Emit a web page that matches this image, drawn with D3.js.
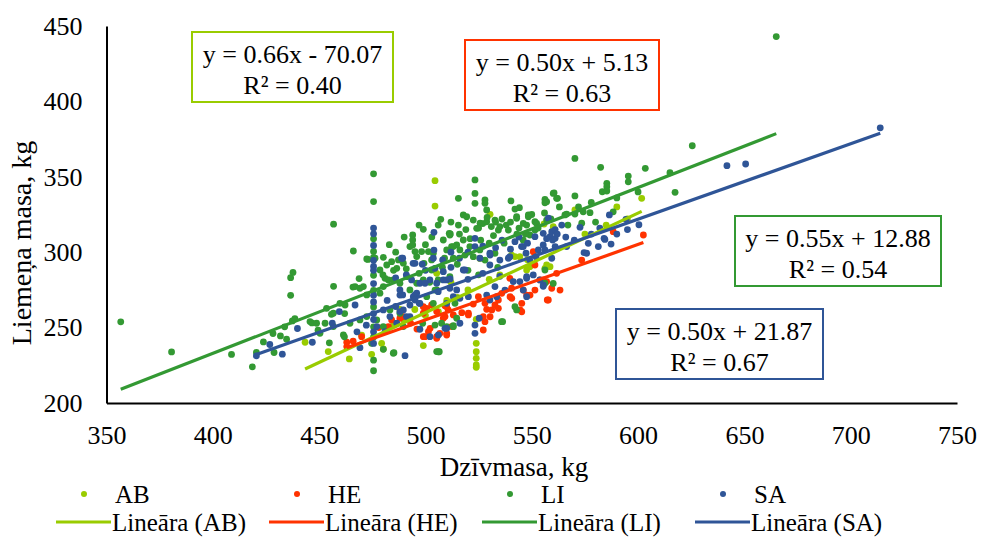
<!DOCTYPE html>
<html>
<head>
<meta charset="utf-8">
<script src="https://cdn.jsdelivr.net/npm/d3@7"></script>
<style>
    body { margin: 0; background: #fff; }
    svg text { font-family: 'Liberation Serif', 'Times New Roman', serif; fill: #000; }
</style>
</head>
<body>
<div id="chart"></div>
<script>
'use strict';

// series names, in drawing order
let seriesNames = ['AB', 'HE', 'LI', 'SA'];
let seriesColors = ['#99cc00', '#ff3300', '#339933', '#2f5597'];

// [live weight, carcass weight] in kg
let abPoints = [
    [443.4, 240.3], [454.3, 234.1], [464.2, 229.2], [474.7, 232.3], [479.4, 239.6], [480.2, 235.8],
    [499.0, 238.1], [506.1, 260.6], [505.3, 286.0], [504.5, 347.4], [504.5, 330.6], [530.4, 325.1],
    [570.3, 328.0], [558.6, 290.4], [601.7, 335.7], [560.1, 316.9], [555.8, 318.7], [523.9, 255.5],
    [523.9, 239.6], [523.9, 234.0], [523.9, 229.6], [523.9, 225.2], [523.9, 223.7], [547.6, 288.2],
    [549.1, 290.4], [556.2, 289.3], [557.0, 291.5], [540.5, 298.1], [544.4, 297.0], [542.1, 297.1],
    [525.6, 295.9], [470.0, 245.0], [485.0, 252.0], [490.0, 255.0], [495.0, 262.0], [500.0, 258.0],
    [510.0, 268.0], [515.0, 270.0], [520.0, 275.0], [530.0, 282.0], [535.0, 285.0], [548.0, 295.0],
    [575.0, 312.0], [585.0, 318.0], [595.0, 322.0], [590.0, 330.0], [512.0, 280.0], [488.0, 262.0]
];
let hePoints = [
    [463.0, 240.3], [463.0, 237.4], [466.0, 241.0], [470.0, 244.0], [482.6, 250.7], [484.1, 255.1],
    [488.0, 256.2], [489.6, 257.3], [499.0, 244.0], [501.4, 247.3], [505.3, 244.0], [499.8, 244.0],
    [502.2, 249.5], [505.3, 242.9], [506.8, 246.2], [510.0, 246.2], [510.0, 245.1], [512.3, 250.7],
    [513.1, 258.4], [509.2, 257.3], [508.4, 256.2], [500.6, 262.8], [499.0, 259.5], [502.9, 265.0],
    [505.3, 260.6], [510.0, 263.9], [509.2, 264.5], [510.7, 261.7], [499.0, 263.9], [517.1, 259.9],
    [520.2, 259.5], [520.2, 258.4], [522.5, 265.6], [524.9, 270.5], [528.0, 266.1], [528.8, 262.1],
    [531.2, 261.7], [530.4, 257.2], [532.7, 265.0], [534.3, 268.3], [534.3, 262.8], [535.9, 272.7],
    [527.2, 257.2], [528.0, 253.9], [527.2, 248.4], [539.8, 270.5], [540.6, 269.4], [544.5, 261.7],
    [545.3, 266.1], [545.3, 260.5], [549.2, 271.6], [551.5, 274.9], [555.4, 281.6], [559.4, 276.1],
    [563.3, 274.9], [557.8, 268.3], [551.5, 291.5], [550.7, 300.3], [539.7, 282.7], [540.5, 276.1],
    [546.0, 274.9], [557.0, 280.5], [561.7, 286.0], [547.6, 271.6], [553.9, 281.6], [573.5, 294.8],
    [588.3, 313.6], [602.5, 311.4], [557.3, 268.3], [478.0, 250.0], [493.0, 253.0], [496.0, 249.0]
];
let liPoints = [
    [356.7, 253.8], [380.6, 233.9], [408.8, 232.2], [418.6, 224.0], [420.5, 233.5], [423.8, 240.5],
    [428.3, 246.1], [431.8, 244.5], [428.8, 233.5], [434.7, 242.3], [433.8, 250.5], [437.4, 254.4],
    [438.6, 256.0], [436.6, 271.4], [436.6, 283.1], [437.7, 286.6], [445.7, 254.0], [446.6, 253.1],
    [448.8, 252.9], [449.5, 248.3], [450.4, 246.2], [452.8, 252.9], [453.5, 262.8], [454.8, 239.9],
    [455.8, 258.8], [456.7, 259.5], [456.7, 250.7], [456.8, 318.6], [456.8, 277.4], [459.8, 266.1],
    [461.4, 245.1], [461.9, 243.9], [462.0, 259.3], [462.2, 265.0], [464.5, 252.9], [465.9, 276.9],
    [466.1, 300.8], [466.9, 277.2], [468.8, 282.5], [469.2, 276.1], [469.2, 255.1], [470.8, 277.2],
    [472.4, 295.5], [472.4, 271.7], [472.4, 257.3], [473.0, 295.2], [474.7, 239.6],
    [475.6, 352.0], [475.6, 333.6], [475.6, 308.9], [475.6, 300.5], [475.6, 284.7], [475.6, 274.7],
    [475.6, 263.7], [475.6, 250.5], [475.6, 243.8], [475.6, 228.4], [475.6, 221.4], [475.6, 296.5],
    [476.3, 296.0], [477.1, 255.1], [478.6, 288.2], [478.6, 272.8], [480.2, 296.6], [480.2, 277.2],
    [480.2, 250.7], [480.2, 235.6], [481.0, 282.7], [481.8, 291.5], [482.6, 281.6], [483.3, 261.7],
    [484.1, 293.7], [484.9, 281.6], [484.9, 233.0], [486.5, 289.3], [487.3, 294.9], [488.0, 279.4],
    [488.0, 259.5], [489.6, 292.7], [489.6, 250.7], [491.2, 283.8], [492.7, 303.7], [492.7, 275.0],
    [494.0, 311.4], [494.0, 308.1], [494.0, 304.8], [495.1, 300.4], [495.9, 297.1], [495.9, 279.4],
    [498.2, 300.4], [499.0, 315.2], [499.0, 281.6], [499.3, 292.6], [500.6, 270.5], [501.4, 300.4],
    [502.9, 294.9], [503.7, 299.3], [503.7, 266.1], [504.5, 274.9], [504.5, 251.7], [505.3, 275.0],
    [505.3, 234.1], [506.0, 281.6], [506.5, 234.0], [507.2, 321.8], [507.6, 252.9], [508.4, 308.1],
    [510.0, 301.5], [510.0, 250.7], [511.2, 312.5], [511.5, 311.4], [511.5, 283.8], [511.7, 312.1],
    [512.3, 303.7], [513.1, 296.0], [513.1, 251.3], [513.1, 303.7], [513.9, 266.1], [514.7, 304.8],
    [514.7, 256.2], [515.5, 335.7], [515.5, 318.0], [516.2, 301.5], [517.8, 308.1], [517.8, 324.7],
    [518.6, 298.1], [519.4, 323.5], [520.9, 303.7], [522.5, 321.3], [522.5, 297.0], [523.3, 347.9],
    [523.3, 339.0], [523.3, 332.4], [524.1, 315.8], [525.6, 301.5], [525.7, 319.2], [525.0, 316.0],
    [527.0, 319.0], [528.0, 334.6], [528.0, 332.4], [528.0, 294.8], [528.8, 320.2], [528.8, 328.0],
    [529.0, 323.0], [531.0, 317.0], [532.7, 321.3], [532.7, 299.3], [533.0, 320.0], [534.3, 314.7],
    [535.0, 317.0], [535.8, 253.9], [536.0, 322.0], [536.3, 253.9], [538.0, 318.0], [539.0, 314.7],
    [540.2, 334.0], [542.1, 328.6], [542.1, 263.9], [542.9, 322.5], [542.9, 323.6], [542.9, 261.7],
    [544.2, 329.5], [546.0, 319.1], [547.6, 318.0], [548.4, 323.5], [548.4, 324.7], [549.1, 311.4],
    [551.5, 320.2], [551.5, 314.7], [552.3, 319.1], [556.2, 332.8], [556.2, 335.0], [556.2, 288.2],
    [556.2, 279.4], [557.0, 321.3], [557.0, 333.5], [560.1, 339.0], [560.1, 279.3], [560.5, 339.4],
    [561.7, 335.7], [562.1, 335.7], [565.6, 324.7], [566.4, 325.3], [570.3, 362.2], [570.3, 337.3],
    [570.3, 325.3], [573.5, 319.2], [574.2, 326.8], [577.4, 326.2], [582.4, 356.3], [583.2, 340.1],
    [585.3, 345.7], [585.3, 343.4], [585.3, 340.6], [588.3, 326.8], [595.4, 350.5], [595.4, 346.7],
    [603.4, 355.6], [615.0, 352.7], [617.4, 339.7], [625.5, 370.6], [665.0, 443.0], [502.9, 288.2],
    [513.1, 250.6], [485.2, 233.4], [498.7, 252.9], [506.0, 234.0], [543.0, 312.0], [546.0, 308.0],
    [483.0, 305.0], [486.0, 300.0], [490.0, 310.0], [497.0, 318.0], [500.0, 305.0], [503.0, 310.0],
    [506.0, 318.0], [509.0, 296.0], [512.0, 320.0], [516.0, 312.0], [519.0, 315.0], [521.0, 309.0],
    [526.0, 308.0], [530.0, 306.0], [532.0, 311.0], [537.0, 306.0], [540.0, 320.0], [544.0, 316.0],
    [547.0, 312.0], [550.0, 325.0], [553.0, 316.0], [556.0, 326.0], [559.0, 322.0], [563.0, 330.0],
    [567.0, 318.0], [572.0, 330.0], [578.0, 333.0], [580.0, 320.0], [590.0, 336.0], [600.0, 340.0],
    [480.0, 285.0], [485.0, 288.0], [491.0, 289.0], [497.0, 286.0], [502.0, 280.0], [508.0, 290.0],
    [515.0, 292.0], [520.0, 288.0], [525.0, 285.0], [534.0, 290.0]
];
let saPoints = [
    [420.5, 231.3], [426.8, 238.8], [432.7, 232.4], [439.8, 249.4], [446.8, 240.3], [456.2, 252.9],
    [459.5, 260.6], [466.9, 265.0], [467.8, 247.2], [469.2, 236.7], [472.2, 251.6], [477.1, 250.7],
    [481.0, 247.3], [483.3, 257.3], [486.5, 252.9], [480.2, 261.7], [489.6, 261.7], [492.7, 257.3],
    [490.4, 231.4], [491.1, 257.3], [488.0, 260.6], [488.0, 271.6], [494.3, 270.5], [497.4, 266.1],
    [497.4, 248.9], [497.4, 279.4], [502.1, 244.0], [506.1, 245.1], [509.2, 249.5], [510.0, 249.5],
    [516.2, 252.9], [523.3, 251.7], [523.3, 246.2], [525.3, 256.2], [506.0, 273.8], [513.1, 270.5],
    [510.0, 266.1], [516.2, 269.4], [520.2, 270.5], [528.8, 271.6], [530.3, 268.3], [532.7, 277.2],
    [533.5, 270.5], [537.4, 274.9], [541.3, 280.5], [547.6, 270.5], [547.6, 283.8], [546.0, 274.9],
    [550.7, 284.9], [555.4, 278.3], [553.8, 281.6], [547.6, 282.7], [544.4, 280.5], [502.1, 281.6],
    [475.6, 316.0], [475.6, 312.2], [475.6, 304.5], [475.6, 294.6], [475.6, 290.6], [475.6, 288.0],
    [475.6, 279.2], [475.6, 271.4], [475.6, 267.0], [475.6, 259.3], [475.6, 255.3], [475.6, 247.2],
    [475.6, 239.5], [489.3, 296.0], [489.3, 271.7], [488.8, 296.0], [488.0, 275.0], [492.7, 265.0],
    [493.5, 281.6], [494.2, 292.6], [495.1, 292.6], [495.1, 271.7], [495.1, 268.3], [495.9, 272.8],
    [497.1, 266.1], [498.5, 292.0], [499.8, 279.4], [503.7, 296.0], [504.0, 301.4], [504.0, 313.2],
    [504.5, 289.3], [505.3, 279.4], [508.1, 294.9], [508.4, 287.1], [508.4, 281.6], [510.0, 281.6],
    [511.5, 276.1], [511.6, 282.3], [514.7, 275.0], [517.8, 288.2], [518.6, 288.2], [523.3, 309.2],
    [523.3, 303.7], [525.6, 296.0], [530.3, 299.3], [530.3, 291.5], [530.4, 298.1], [535.0, 294.8],
    [539.0, 296.0], [539.7, 297.0], [542.1, 307.0], [545.2, 303.7], [546.0, 303.7], [547.3, 299.3],
    [549.1, 294.8], [551.5, 310.3], [553.1, 301.5], [555.4, 312.5], [555.4, 304.8], [556.2, 301.5],
    [557.0, 309.0], [557.8, 322.5], [558.6, 310.3], [559.4, 313.6], [559.4, 296.0], [559.8, 308.1],
    [561.0, 303.7], [561.0, 309.2], [561.0, 315.0], [564.1, 318.0], [566.4, 303.7], [572.7, 316.5],
    [574.6, 299.7], [575.8, 299.3], [576.6, 305.9], [581.3, 303.7], [584.0, 309.2], [584.4, 308.5],
    [586.5, 324.7], [587.3, 305.4], [594.3, 321.8], [600.4, 318.2], [641.8, 357.4], [650.6, 358.5],
    [713.9, 382.5], [555.4, 277.4],
    [512.0, 300.0], [516.0, 296.0], [520.0, 300.0], [527.0, 304.0], [533.0, 303.0], [536.0, 308.0],
    [540.0, 302.0], [544.0, 310.0], [548.0, 306.0], [552.0, 297.0], [562.0, 312.0], [566.0, 310.0],
    [570.0, 308.0], [578.0, 312.0], [582.0, 316.0], [590.0, 312.0], [595.0, 315.0], [486.0, 283.0],
    [491.0, 285.0], [500.0, 288.0], [512.0, 290.0], [520.0, 282.0], [527.0, 286.0], [535.0, 284.0],
    [482.0, 268.0], [486.0, 264.0]
];

// linear trend lines as printed on the chart
let trendSlopes = [0.66, 0.50, 0.55, 0.50];
let trendIntercepts = [-70.07, 5.13, 12.88, 21.87];
let trendR2 = [0.40, 0.63, 0.54, 0.67];

let xTicks = [350, 400, 450, 500, 550, 600, 650, 700, 750];
let yTicks = [200, 250, 300, 350, 400, 450];
let xTitle = 'Dzīvmasa, kg';
let yTitle = 'Liemeņa masa, kg';
let trendPrefix = 'Lineāra';

let allPoints = [abPoints, hePoints, liPoints, saPoints];

let serif = "'Liberation Serif', 'Times New Roman', serif";

// page layout
let width = 981,
    height = 537;
// top-left corner of each equation box (AB, HE, LI, SA)
let boxCorners = [[192, 32], [465, 40], [735, 216], [616, 309]];
let boxSizes = [[201, 70], [194, 70], [206, 70], [207, 70]];

let svg = d3.select('#chart')
    .append('svg')
    .attr('width', width)
    .attr('height', height)
    .attr('font-family', serif);

let x = d3.scaleLinear().domain([350, 750]).range([106.5, 957]);
let y = d3.scaleLinear().domain([200, 450]).range([403, 26]);

// axes (no grid, no tick marks)
let xAxis = svg.append('g')
    .attr('transform', 'translate(0,403)')
    .call(d3.axisBottom(x).tickValues(xTicks).tickSize(0).tickSizeOuter(0).tickPadding(23));
let yAxis = svg.append('g')
    .attr('transform', 'translate(106.5,0)')
    .call(d3.axisLeft(y).tickValues(yTicks).tickSize(0).tickSizeOuter(0).tickPadding(24));

[xAxis, yAxis].forEach(function(a) {
    a.attr('font-family', serif).attr('font-size', 26);
    a.select('.domain').attr('stroke', '#000').attr('stroke-width', 2);
    a.selectAll('text')
        .attr('font-family', serif)
        .attr('fill', '#000');
});

svg.append('text')
    .attr('x', 514)
    .attr('y', 476)
    .attr('text-anchor', 'middle')
    .style('font-size', '27px')
    .text(xTitle);

svg.append('text')
    .attr('transform', 'translate(31,243) rotate(-90)')
    .attr('text-anchor', 'middle')
    .style('font-size', '28px')
    .text(yTitle);

// markers
seriesNames.forEach(function(name, i) {
    svg.append('g')
        .attr('fill', seriesColors[i])
        .selectAll('circle')
        .data(allPoints[i])
        .enter().append('circle')
        .attr('cx', function(d) {
            return x(d[0]);
        })
        .attr('cy', function(d) {
            return y(d[1]);
        })
        .attr('r', 3.4);
});

// trend lines, spanning each series' own range of live weight
seriesNames.forEach(function(name, i) {
    let ext = d3.extent(allPoints[i], function(d) {
        return d[0];
    });
    let ends = ext.map(function(v) {
        return [v, trendSlopes[i] * v + trendIntercepts[i]];
    });
    svg.append('path')
        .attr('d', d3.line()
            .x(function(d) {
                return x(d[0]);
            })
            .y(function(d) {
                return y(d[1]);
            })(ends))
        .attr('fill', 'none')
        .attr('stroke', seriesColors[i])
        .attr('stroke-width', 3.2);
});

// equation boxes
function equationText(i) {
    let b = trendIntercepts[i];
    return 'y = ' + trendSlopes[i].toFixed(2) + 'x ' + (b < 0 ? '- ' : '+ ') + Math.abs(b).toFixed(2);
}

seriesNames.forEach(function(name, i) {
    let c = boxCorners[i],
        s = boxSizes[i];
    let g = svg.append('g').attr('transform', 'translate(' + c[0] + ',' + c[1] + ')');
    g.append('rect')
        .attr('width', s[0])
        .attr('height', s[1])
        .attr('fill', '#fff')
        .attr('stroke', seriesColors[i])
        .attr('stroke-width', 2);
    g.append('text')
        .attr('x', s[0] / 2)
        .attr('y', 31)
        .attr('text-anchor', 'middle')
        .style('font-size', '26px')
        .text(equationText(i));
    g.append('text')
        .attr('x', s[0] / 2)
        .attr('y', 62)
        .attr('text-anchor', 'middle')
        .style('font-size', '26px')
        .text('R² = ' + trendR2[i].toFixed(2));
});

// legend: markers on the first row, trend lines on the second
let legendStep = 213;
seriesNames.forEach(function(name, i) {
    let lx = 56 + i * legendStep;
    svg.append('circle')
        .attr('cx', lx + 28)
        .attr('cy', 494)
        .attr('r', 3)
        .attr('fill', seriesColors[i]);
    svg.append('text')
        .attr('x', lx + 59)
        .attr('y', 503)
        .style('font-size', '25px')
        .text(name);
    svg.append('line')
        .attr('x1', lx)
        .attr('x2', lx + 55)
        .attr('y1', 522)
        .attr('y2', 522)
        .attr('stroke', seriesColors[i])
        .attr('stroke-width', 3.2);
    svg.append('text')
        .attr('x', lx + 56)
        .attr('y', 531)
        .style('font-size', '25px')
        .text(trendPrefix + ' (' + name + ')');
});
</script>
</body>
</html>
